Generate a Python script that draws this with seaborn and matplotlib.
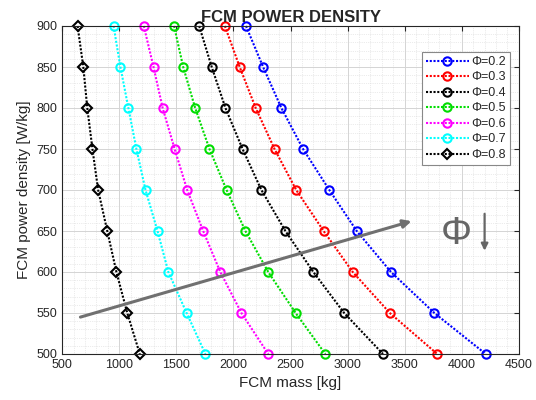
import numpy as np
import pandas as pd
import matplotlib
matplotlib.use("Agg")
import matplotlib.pyplot as plt
from matplotlib.ticker import MultipleLocator
import seaborn as sns

power_density = [900, 850, 800, 750, 700, 650, 600, 550, 500]
phi_labels = ["Φ=0.2", "Φ=0.3", "Φ=0.4", "Φ=0.5", "Φ=0.6", "Φ=0.7", "Φ=0.8"]
mass_02 = [2110, 2260, 2420, 2610, 2840, 3080, 3380, 3760, 4210]
mass_03 = [1925, 2055, 2195, 2360, 2550, 2790, 3045, 3370, 3785]
mass_04 = [1700, 1810, 1930, 2080, 2245, 2455, 2700, 2970, 3310]
mass_05 = [1480, 1560, 1665, 1790, 1940, 2105, 2305, 2545, 2805]
mass_06 = [1215, 1300, 1380, 1485, 1595, 1735, 1885, 2070, 2305]
mass_07 = [950, 1010, 1080, 1150, 1230, 1335, 1430, 1590, 1755]
mass_08 = [635, 685, 720, 765, 815, 895, 975, 1070, 1180]
series = [mass_02, mass_03, mass_04, mass_05, mass_06, mass_07, mass_08]
colors = ["#0000ff", "#ff0000", "#000000", "#00dd00", "#ff00ff", "#00ffff", "#000000"]
markers = ["o", "o", "o", "o", "o", "o", "D"]

sns.set_style("white")
plt.rcParams["font.family"] = ["Liberation Sans", "DejaVu Sans"]

fig = plt.figure(figsize=(5.36, 4.0), dpi=100)
ax = fig.add_axes([0.116, 0.115, 0.852, 0.82])

for lab, xs, c, m in zip(phi_labels, series, colors, markers):
    df = pd.DataFrame({"mass": xs, "pd": power_density})
    sns.lineplot(data=df, x="mass", y="pd", ax=ax, color=c, dashes=False,
                 linewidth=1.5, marker=m, markersize=6 if m == "o" else 5,
                 markerfacecolor="none", markeredgecolor=c, markeredgewidth=1.5,
                 label=lab, sort=False, estimator=None, clip_on=False)
    ax.lines[-1].set_dashes([1.0, 0.8])

ax.set_xlim(500, 4500)
ax.set_ylim(500, 900)
ax.xaxis.set_major_locator(MultipleLocator(500))
ax.yaxis.set_major_locator(MultipleLocator(50))
ax.xaxis.set_minor_locator(MultipleLocator(100))
ax.yaxis.set_minor_locator(MultipleLocator(10))
ax.grid(True, which="major", color="#d4d4d4", linewidth=0.7)
ax.grid(True, which="minor", color="#d8d8d8", linewidth=0.5, linestyle=":")
ax.tick_params(which="both", direction="in", top=True, right=True, labelsize=9, colors="#262626")
ax.tick_params(which="minor", length=0)
for s in ax.spines.values():
    s.set_color("#262626")
    s.set_linewidth(0.8)
ax.set_axisbelow(True)

ax.set_xlabel("FCM mass [kg]", fontsize=11, color="#262626")
ax.set_ylabel("FCM power density [W/kg]", fontsize=11, color="#262626")
ax.set_title("FCM POWER DENSITY", fontsize=12, fontweight="bold", pad=3)

ax.annotate("", xy=(3560, 662), xytext=(660, 545),
            arrowprops=dict(arrowstyle="-|>", color="#707070", lw=2.2,
                            mutation_scale=12, shrinkA=0, shrinkB=0))
ax.text(3950, 646, "Φ", fontsize=28, color="#666666", ha="center", va="center")
ax.annotate("", xy=(4200, 626), xytext=(4200, 671),
            arrowprops=dict(arrowstyle="-|>", color="#666666", lw=1.6,
                            mutation_scale=10, shrinkA=0, shrinkB=0))

leg = ax.legend(loc="upper right", bbox_to_anchor=(0.981, 0.922), fontsize=9,
                handlelength=3.4, handletextpad=0.2, labelspacing=0.28,
                borderpad=0.35, borderaxespad=0, frameon=True, fancybox=False,
                framealpha=1)
leg.get_frame().set_edgecolor("#888888")
leg.get_frame().set_linewidth(0.8)

fig.savefig("out.png", dpi=100)
